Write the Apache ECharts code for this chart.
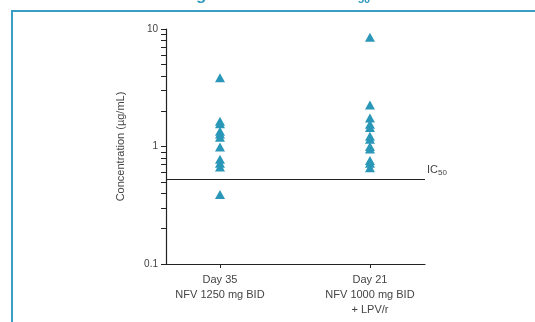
<!DOCTYPE html>
<html>
<head>
<meta charset="utf-8">
<script src="https://cdn.jsdelivr.net/npm/echarts@6/dist/echarts.min.js"></script>
<style>
html,body{margin:0;padding:0;background:#fff;}
#c{width:535px;height:322px;}
</style>
</head>
<body>
<div id="c"></div>
<script>
var categories = ["Day 35\nNFV 1250 mg BID", "Day 21\nNFV 1000 mg BID\n+ LPV/r"];
var categoryPos = [1, 2];
var day35Values = [3.85, 1.64, 1.56, 1.35, 1.28, 1.2, 0.99, 0.78, 0.72, 0.67, 0.39];
var day21Values = [8.5, 2.25, 1.75, 1.55, 1.45, 1.22, 1.15, 1.0, 0.95, 0.76, 0.72, 0.66];
var yLabelTicks = [0.1, 1, 10];
var yAllTicks = [0.1,0.2,0.3,0.4,0.5,0.6,0.7,0.8,0.9,1,2,3,4,5,6,7,8,9,10];
var ic50 = 0.53;

var font = "'Liberation Sans Narrow','Arial Narrow','Liberation Sans',sans-serif";
var triColor = "#2a97b8";

function pts(pos, vals){ return vals.map(function(v){ return [pos, v]; }); }

var chart = echarts.init(document.getElementById('c'));
chart.setOption({
  animation: false,
  grid: {left: 166, right: 110, top: 29, bottom: 58},
  xAxis: {
    type: 'value', min: 0.64, max: 2.367,
    splitLine: {show: false},
    axisLine: {show: true, lineStyle: {color: '#222', width: 1.2}},
    axisTick: {show: true, length: 4, lineStyle: {color: '#222'}, customValues: categoryPos},
    axisLabel: {
      customValues: categoryPos, fontFamily: font, fontSize: 11, color: '#444', lineHeight: 15, margin: 8,
      formatter: function(v){ var i = categoryPos.indexOf(v); return i >= 0 ? categories[i] : ''; }
    }
  },
  yAxis: {
    type: 'log', logBase: 10, min: 0.1, max: 10,
    name: 'Concentration (\u00b5g/mL)', nameLocation: 'middle', nameGap: 40,
    nameTextStyle: {fontFamily: font, fontSize: 11, color: '#444'},
    splitLine: {show: false},
    axisLine: {show: true, lineStyle: {color: '#222', width: 1.2}},
    axisTick: {show: true, length: 5, lineStyle: {color: '#222'}, customValues: yAllTicks},
    axisLabel: {customValues: yLabelTicks, fontFamily: font, fontSize: 10, color: '#444', margin: 8,
      formatter: function(v){ return String(v); }}
  },
  series: [{
    type: 'scatter', symbol: 'triangle', symbolSize: [10, 9],
    itemStyle: {color: triColor, opacity: 1},
    data: pts(categoryPos[0], day35Values),
    markLine: {
      silent: true, symbol: 'none',
      lineStyle: {color: '#222', type: 'solid', width: 1},
      label: {
        show: true, position: 'end', distance: 2, offset: [0, -9],
        formatter: '{a|IC}{b|50}',
        rich: {a: {fontFamily: font, fontSize: 11, color: '#444'}, b: {fontFamily: font, fontSize: 8, color: '#444', padding: [6, 0, 0, 0]}}
      },
      data: [{yAxis: ic50}]
    }
  }, {
    type: 'scatter', symbol: 'triangle', symbolSize: [10, 9],
    itemStyle: {color: triColor, opacity: 1},
    data: pts(categoryPos[1], day21Values)
  }],
  graphic: [
    {type: 'rect', shape: {x: 12, y: 11, width: 540, height: 330}, style: {fill: 'none', stroke: '#3a9ec4', lineWidth: 2}},
    {type: 'text', left: 196, top: -13, style: {text: 'g', fontFamily: 'Liberation Sans', fontWeight: 'bold', fontSize: 17, fill: '#2f9abb'}},
    {type: 'text', left: 358, top: -6, style: {text: '50', fontFamily: 'Liberation Sans', fontWeight: 'bold', fontSize: 11, fill: '#2f9abb'}}
  ]
});
</script>
</body>
</html>
